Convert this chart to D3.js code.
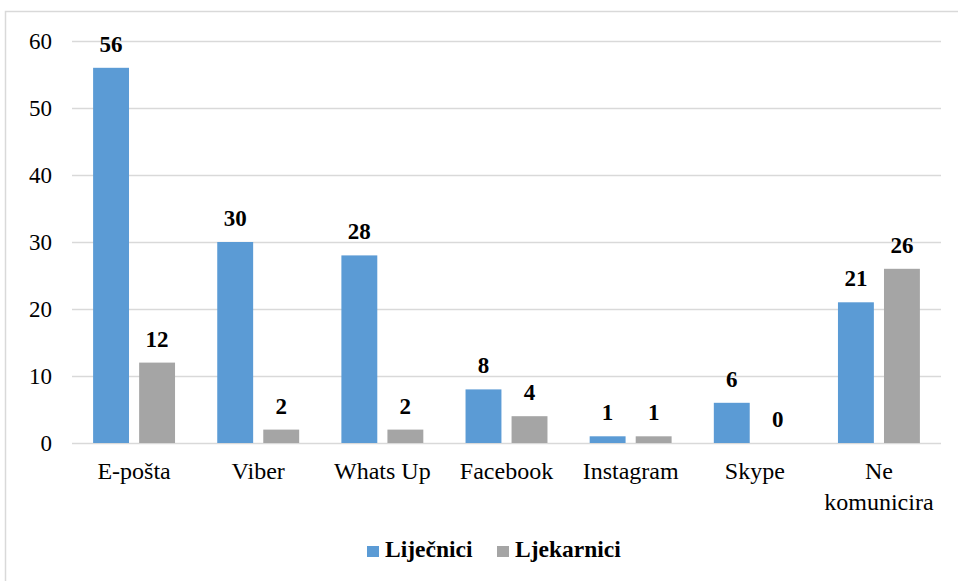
<!DOCTYPE html>
<html>
<head>
<meta charset="utf-8">
<script src="https://cdn.jsdelivr.net/npm/d3@7"></script>
<style>
  body { margin: 0; background: #fff; }
</style>
</head>
<body>
<div class="chart"></div>
<script>
// data
var categories = ["E-pošta", "Viber", "Whats Up", "Facebook", "Instagram", "Skype", "Ne komunicira"];
var seriesNames = ["Liječnici", "Ljekarnici"];
var lijecnici = [56, 30, 28, 8, 1, 6, 21];
var ljekarnici = [12, 2, 2, 4, 1, 0, 26];
var yTicks = [0, 10, 20, 30, 40, 50, 60];

var colors = ["#5b9bd5", "#a5a5a5"];
var serif = "'Liberation Serif'";

var width = 958, height = 581;
var margin = { top: 41, right: 17, bottom: 138, left: 72 };

var svg = d3.select(".chart")
    .append("svg")
    .attr("width", width)
    .attr("height", height);

// outer chart frame (runs off the right and bottom edge)
svg.append("rect")
    .attr("x", 5.5)
    .attr("y", 11.5)
    .attr("width", 1000)
    .attr("height", 700)
    .attr("fill", "none")
    .attr("stroke", "#d9d9d9")
    .attr("stroke-width", 1.5);

var x0 = d3.scaleBand()
    .domain(categories)
    .range([margin.left, width - margin.right])
    .paddingInner(0.34)
    .paddingOuter(0.17);

var x1 = d3.scaleBand()
    .domain(seriesNames)
    .range([0, x0.bandwidth()])
    .paddingInner(0.22);

var y = d3.scaleLinear()
    .domain([0, 60])
    .range([height - margin.bottom, margin.top]);

// gridlines
svg.append("g")
    .selectAll("line")
    .data(yTicks)
    .enter().append("line")
    .attr("x1", margin.left)
    .attr("x2", width - margin.right)
    .attr("y1", function (d) { return y(d) + 0.5; })
    .attr("y2", function (d) { return y(d) + 0.5; })
    .attr("stroke", "#d9d9d9")
    .attr("stroke-width", 1.5);

// y tick labels
svg.append("g")
    .selectAll("text")
    .data(yTicks)
    .enter().append("text")
    .attr("x", 52)
    .attr("y", function (d) { return y(d) + 8; })
    .attr("text-anchor", "end")
    .style("font-family", serif)
    .style("font-size", "23px")
    .text(function (d) { return d; });

var rows = categories.map(function (c, i) {
    return { cat: c, values: [lijecnici[i], ljekarnici[i]] };
});

var groups = svg.append("g")
    .selectAll("g")
    .data(rows)
    .enter().append("g")
    .attr("transform", function (d) { return "translate(" + x0(d.cat) + ",0)"; });

var cells = groups.selectAll("g")
    .data(function (d) {
        return d.values.map(function (v, k) { return { name: seriesNames[k], value: v, k: k }; });
    })
    .enter().append("g");

cells.append("rect")
    .attr("x", function (d) { return x1(d.name); })
    .attr("width", x1.bandwidth())
    .attr("y", function (d) { return y(d.value); })
    .attr("height", function (d) { return y(0) - y(d.value); })
    .attr("fill", function (d) { return colors[d.k]; });

cells.append("text")
    .attr("x", function (d) { return x1(d.name) + x1.bandwidth() / 2; })
    .attr("y", function (d) { return y(d.value) - 16; })
    .attr("text-anchor", "middle")
    .style("font-family", serif)
    .style("font-size", "23px")
    .style("font-weight", "bold")
    .text(function (d) { return d.value; });

// category labels, wrapped like the original
var catLabels = svg.append("g")
    .selectAll("text")
    .data(categories)
    .enter().append("text")
    .attr("text-anchor", "middle")
    .style("font-family", serif)
    .style("font-size", "24px")
    .attr("transform", function (d) {
        return "translate(" + (x0(d) + x0.bandwidth() / 2) + "," + 479 + ")";
    });

catLabels.each(function (d) {
    var words = d === "Ne komunicira" ? ["Ne", "komunicira"] : [d];
    var t = d3.select(this);
    words.forEach(function (w, i) {
        t.append("tspan")
            .attr("x", 0)
            .attr("dy", i === 0 ? 0 : 31)
            .text(w);
    });
});

// legend
var legend = svg.append("g");
var legendX = [367, 497];
seriesNames.forEach(function (name, i) {
    legend.append("rect")
        .attr("x", legendX[i])
        .attr("y", 546)
        .attr("width", 12)
        .attr("height", 11)
        .attr("fill", colors[i]);
    legend.append("text")
        .attr("x", legendX[i] + 18)
        .attr("y", 557)
        .style("font-family", serif)
        .style("font-size", "23.5px")
        .style("font-weight", "bold")
        .text(name);
});
</script>
</body>
</html>
